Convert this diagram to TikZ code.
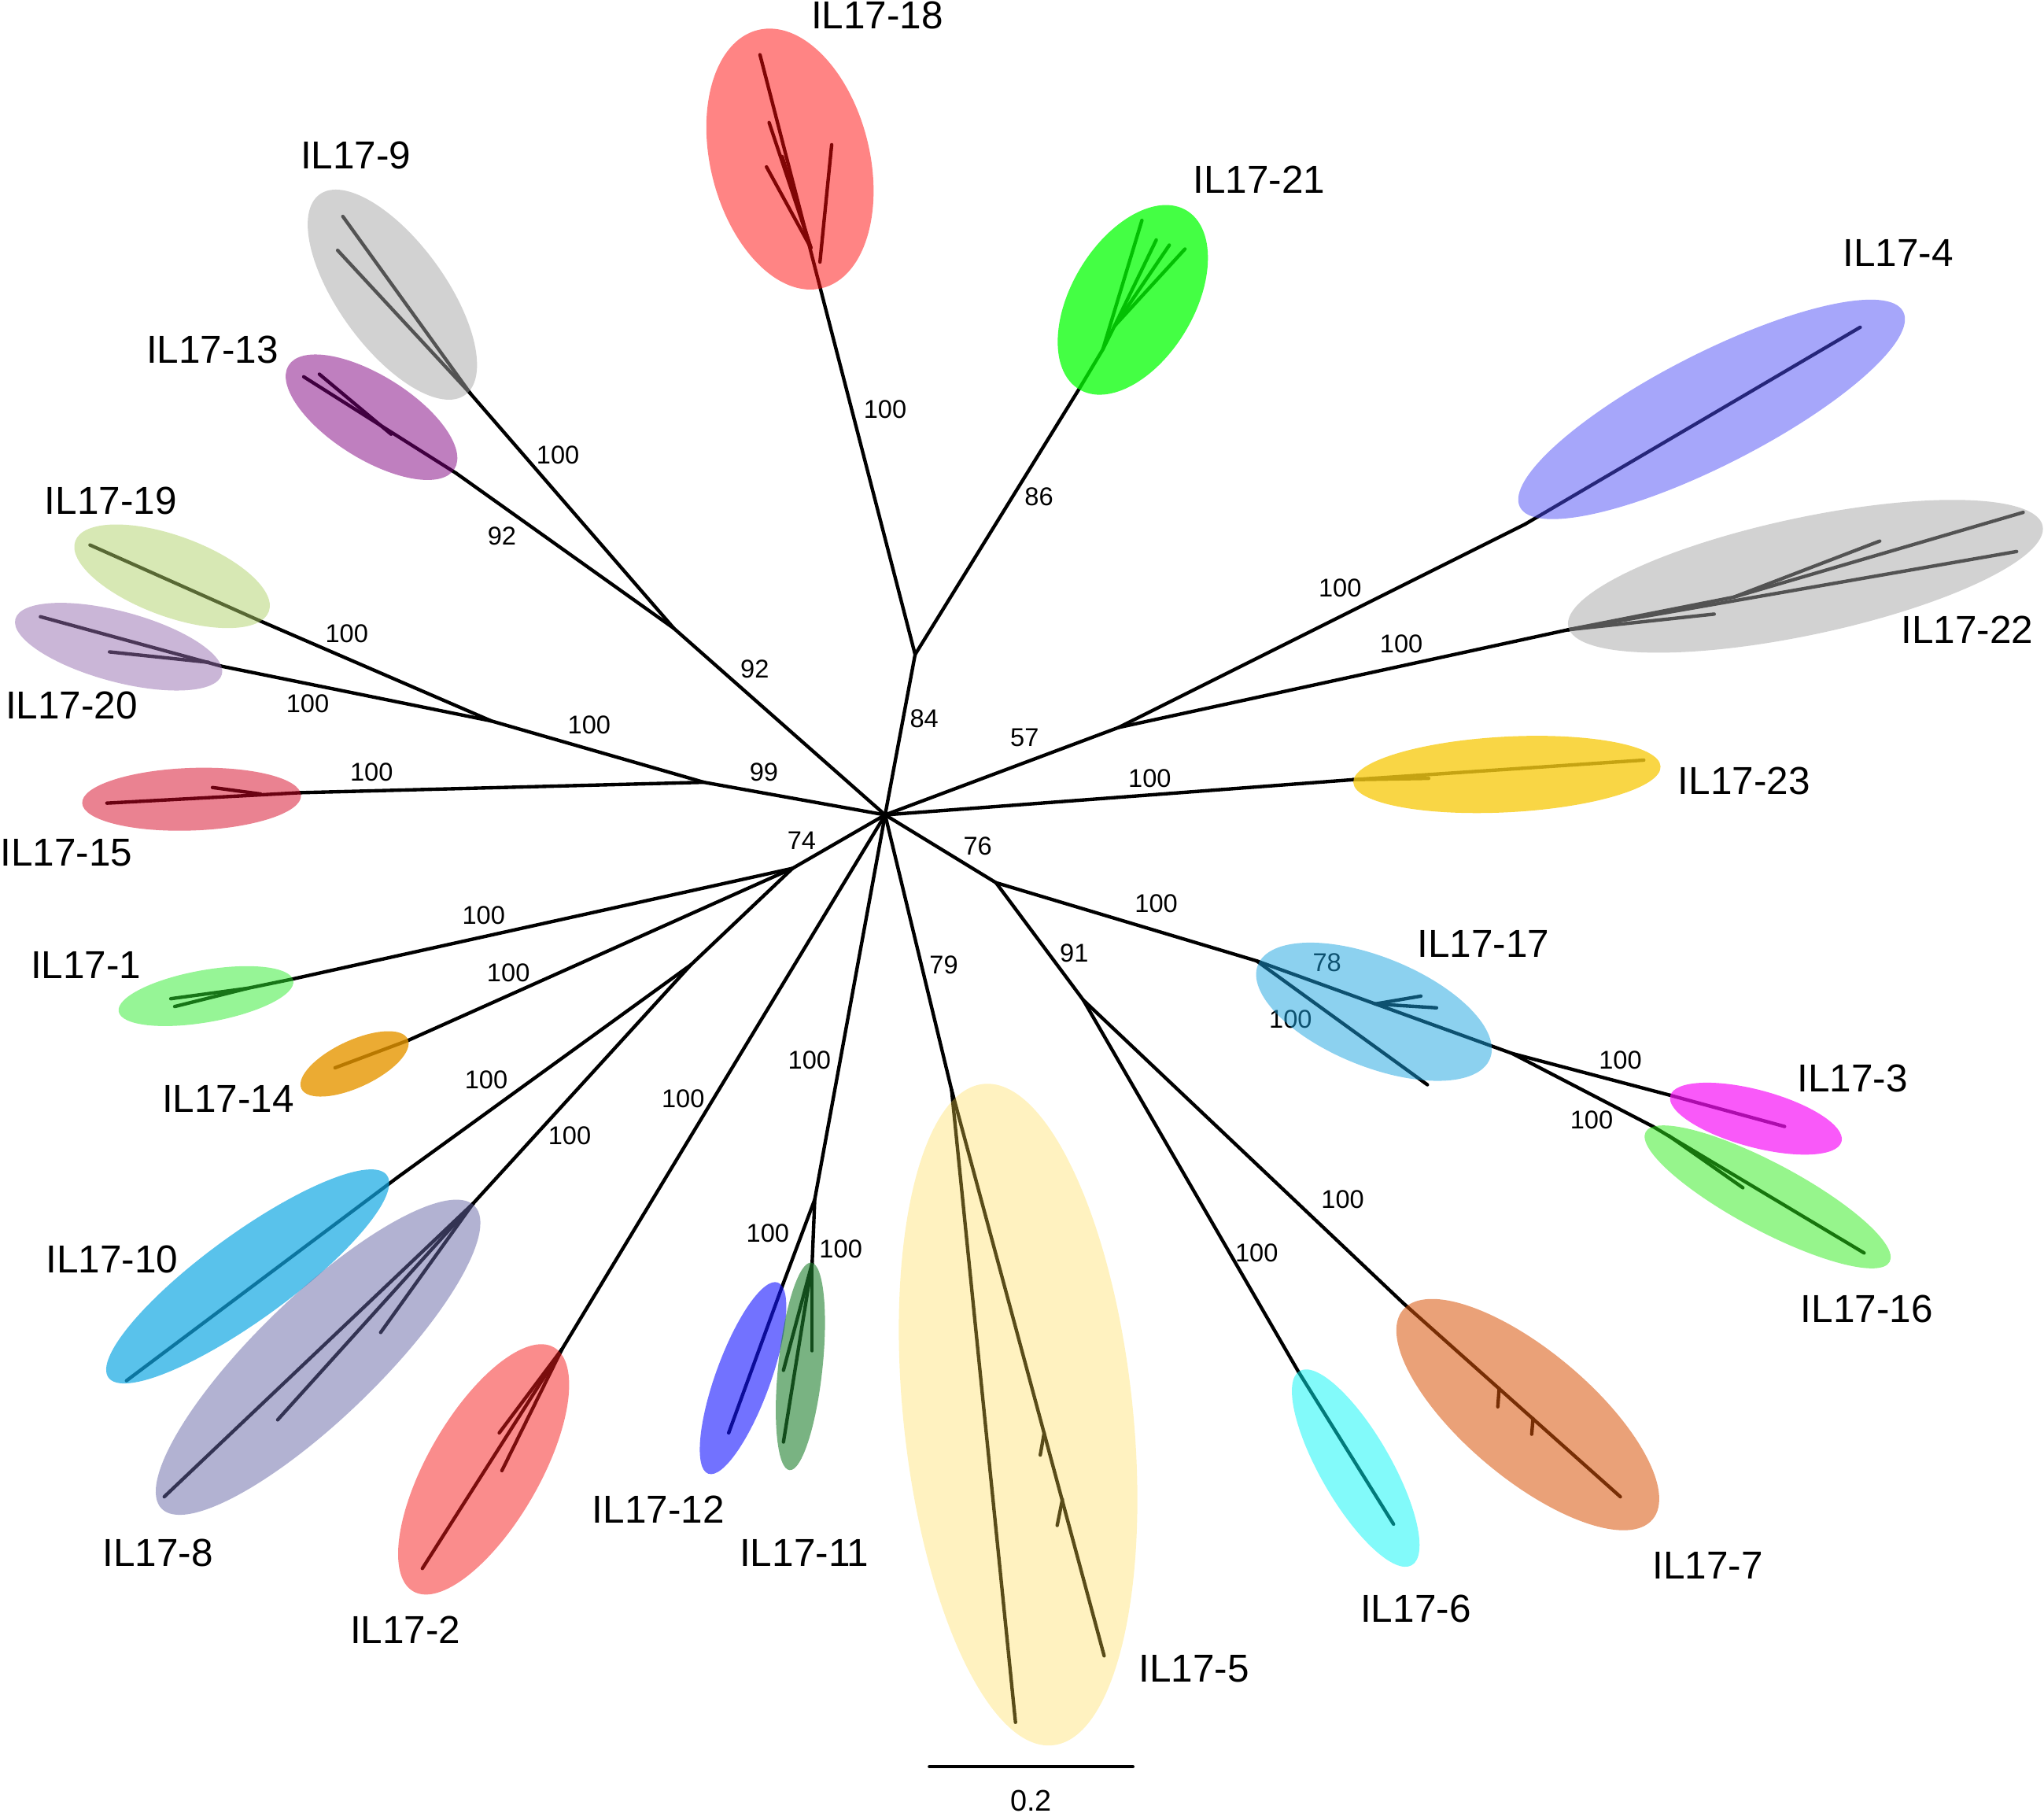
\documentclass[tikz,border=0pt]{standalone}
\usepackage{fontspec}
\setmainfont{Liberation Sans}
\usepackage{tikz}
\usetikzlibrary{shapes.geometric}

\definecolor{cred}{RGB}{255,10,10}
\definecolor{cgreen}{RGB}{5,255,5}
\definecolor{cgray}{RGB}{166,166,166}
\definecolor{cpurple}{RGB}{128,0,128}
\definecolor{colive}{RGB}{176,209,105}
\definecolor{clilac}{RGB}{150,110,176}
\definecolor{crose}{RGB}{214,5,36}
\definecolor{clime}{RGB}{46,235,46}
\definecolor{corange}{RGB}{230,150,0}
\definecolor{csky}{RGB}{18,168,227}
\definecolor{cslate}{RGB}{102,102,166}
\definecolor{csalmon}{RGB}{245,26,26}
\definecolor{cblue}{RGB}{20,20,255}
\definecolor{cforest}{RGB}{31,128,46}
\definecolor{cyellow}{RGB}{255,219,74}
\definecolor{ccyan}{RGB}{5,245,245}
\definecolor{crust}{RGB}{217,84,10}
\definecolor{cazure}{RGB}{26,163,224}
\definecolor{cmagenta}{RGB}{247,18,247}
\definecolor{cleaf}{RGB}{46,235,26}
\definecolor{cperiwinkle}{RGB}{77,77,245}
\definecolor{cgold}{RGB}{247,204,23}

\begin{document}
\begin{tikzpicture}[x=0.1mm, y=-0.1mm]
    \tikzstyle{branch} = [line width=0.75pt, line cap=round, line join=round]
    \tikzstyle{boot} = [font=\fontsize{5.6}{6}\selectfont, inner sep=0pt]
    \tikzstyle{taxon} = [font=\fontsize{8.5}{10}\selectfont, inner sep=0pt]
    \tikzstyle{clade} = [ellipse, draw=none, inner sep=0pt, fill opacity=0.5]

    \useasboundingbox (0,0) rectangle (1568,1390);

    % backbone
    \coordinate (root) at (679,625);
    \coordinate (n84) at (702,502);
    \coordinate (n57) at (858,558);
    \coordinate (n76) at (764,677);
    \coordinate (n91) at (831,767);
    \coordinate (n79) at (730,836);
    \coordinate (n1112) at (625,920);
    \coordinate (n74) at (608,666);
    \coordinate (n108) at (530,740);
    \coordinate (n99) at (540,600);
    \coordinate (n1920) at (377,553);
    \coordinate (n92) at (517,482);
    \coordinate (n17) at (964,737);
    \coordinate (n316) at (1160,808);

    % clade bases
    \coordinate (b18) at (629,220);
    \coordinate (b21) at (828,298);
    \coordinate (b4) at (1170,402);
    \coordinate (b22) at (1203,483);
    \coordinate (b23) at (1038,598);
    \coordinate (b3) at (1281,840);
    \coordinate (b16) at (1268,864);
    \coordinate (b7) at (1077,1000);
    \coordinate (b6) at (996,1052);
    \coordinate (b12) at (601,984);
    \coordinate (b11) at (623,969);
    \coordinate (b2) at (431,1035);
    \coordinate (b8) at (363,923);
    \coordinate (b10) at (305,903);
    \coordinate (b14) at (313,798);
    \coordinate (b1) at (224,751);
    \coordinate (b15) at (230,608);
    \coordinate (b19) at (199,476);
    \coordinate (b20) at (170,511);
    \coordinate (b13) at (350,363);
    \coordinate (b9) at (361,302);

    \draw[branch] (root) -- (n84) -- (b18);
    \draw[branch] (n84) -- (b21);
    \draw[branch] (root) -- (n57) -- (b4);
    \draw[branch] (n57) -- (b22);
    \draw[branch] (root) -- (b23);
    \draw[branch] (root) -- (n76) -- (n17) -- (n316) -- (b3);
    \draw[branch] (n316) -- (b16);
    \draw[branch] (n76) -- (n91) -- (b7);
    \draw[branch] (n91) -- (b6);
    \draw[branch] (root) -- (n79);
    \draw[branch] (root) -- (n1112) -- (b12);
    \draw[branch] (n1112) -- (b11);
    \draw[branch] (root) -- (b2);
    \draw[branch] (root) -- (n74) -- (b1);
    \draw[branch] (n74) -- (b14);
    \draw[branch] (n74) -- (n108) -- (b10);
    \draw[branch] (n108) -- (b8);
    \draw[branch] (root) -- (n99) -- (b15);
    \draw[branch] (n99) -- (n1920) -- (b19);
    \draw[branch] (n1920) -- (b20);
    \draw[branch] (root) -- (n92) -- (b9);
    \draw[branch] (n92) -- (b13);

    % IL17-18 clade
    \coordinate (k18a) at (622,190);
    \coordinate (k18b) at (629,201);
    \coordinate (t18a) at (583,42);
    \coordinate (t18b) at (590,94);
    \coordinate (t18c) at (588,128);
    \coordinate (t18d) at (638,111);
    \coordinate (t18e) at (600,120);
    \draw[branch] (b18) -- (t18a);
    \draw[branch] (k18a) -- (t18b);
    \draw[branch] (k18a) -- (t18c);
    \draw[branch] (k18a) -- (t18e);
    \draw[branch] (k18b) -- (t18d);

    % IL17-21 clade
    \coordinate (k21a) at (846,268);
    \coordinate (k21b) at (855,250);
    \coordinate (t21a) at (876,169);
    \coordinate (t21b) at (887,184);
    \coordinate (t21c) at (897,188);
    \coordinate (t21d) at (909,191);
    \draw[branch] (b21) -- (k21a) -- (t21a);
    \draw[branch] (k21a) -- (k21b) -- (t21b);
    \draw[branch] (k21b) -- (t21c);
    \draw[branch] (k21b) -- (t21d);

    % IL17-4, IL17-22, IL17-23 clades
    \coordinate (t4) at (1427,251);
    \draw[branch] (b4) -- (t4);
    \coordinate (k22) at (1330,458);
    \coordinate (t22a) at (1552,393);
    \coordinate (t22b) at (1547,423);
    \coordinate (t22c) at (1442,415);
    \coordinate (t22d) at (1315,471);
    \draw[branch] (b22) -- (t22b);
    \draw[branch] (b22) -- (t22d);
    \draw[branch] (b22) -- (k22) -- (t22a);
    \draw[branch] (k22) -- (t22c);
    \coordinate (t23a) at (1261,583);
    \coordinate (t23b) at (1096,597);
    \draw[branch] (b23) -- (t23a);
    \draw[branch] (b23) -- (t23b);

    % IL17-17, IL17-3, IL17-16 clades
    \coordinate (t17a) at (1095,832);
    \coordinate (k17) at (1055,770);
    \coordinate (t17b) at (1102,773);
    \coordinate (t17c) at (1090,764);
    \draw[branch] (n17) -- (t17a);
    \draw[branch] (k17) -- (t17b);
    \draw[branch] (k17) -- (t17c);
    \coordinate (t3) at (1369,864);
    \draw[branch] (b3) -- (t3);
    \coordinate (k16) at (1280,871);
    \coordinate (t16a) at (1430,961);
    \coordinate (t16b) at (1337,911);
    \draw[branch] (b16) -- (t16a);
    \draw[branch] (k16) -- (t16b);

    % IL17-7, IL17-6 clades
    \coordinate (t7) at (1243,1148);
    \coordinate (k7a) at (1150,1065);
    \coordinate (t7b) at (1149,1079);
    \coordinate (k7b) at (1176,1088);
    \coordinate (t7c) at (1175,1100);
    \draw[branch] (b7) -- (t7);
    \draw[branch] (k7a) -- (t7b);
    \draw[branch] (k7b) -- (t7c);
    \coordinate (t6) at (1069,1169);
    \draw[branch] (b6) -- (t6);

    % IL17-5 clade
    \coordinate (t5a) at (779,1321);
    \coordinate (t5b) at (847,1270);
    \coordinate (k5a) at (801,1099);
    \coordinate (t5c) at (798,1116);
    \coordinate (k5b) at (815,1150);
    \coordinate (t5d) at (811,1170);
    \draw[branch] (n79) -- (t5a);
    \draw[branch] (n79) -- (t5b);
    \draw[branch] (k5a) -- (t5c);
    \draw[branch] (k5b) -- (t5d);

    % IL17-12, IL17-11 clades
    \coordinate (t12) at (559,1099);
    \draw[branch] (b12) -- (t12);
    \coordinate (t11a) at (623,1036);
    \coordinate (t11b) at (601,1051);
    \coordinate (t11c) at (601,1106);
    \draw[branch] (b11) -- (t11a);
    \draw[branch] (b11) -- (t11b);
    \draw[branch] (b11) -- (t11c);

    % IL17-2, IL17-8, IL17-10 clades
    \coordinate (t2a) at (324,1203);
    \coordinate (t2b) at (383,1099);
    \coordinate (t2c) at (385,1128);
    \draw[branch] (b2) -- (t2a);
    \draw[branch] (b2) -- (t2b);
    \draw[branch] (b2) -- (t2c);
    \coordinate (t8a) at (126,1148);
    \coordinate (t8b) at (213,1089);
    \coordinate (t8c) at (292,1022);
    \draw[branch] (b8) -- (t8a);
    \draw[branch] (b8) -- (t8b);
    \draw[branch] (b8) -- (t8c);
    \coordinate (t10) at (97,1059);
    \draw[branch] (b10) -- (t10);

    % IL17-14, IL17-1, IL17-15 clades
    \coordinate (t14) at (257,819);
    \draw[branch] (b14) -- (t14);
    \coordinate (k1) at (190,758);
    \coordinate (t1a) at (131,766);
    \coordinate (t1b) at (134,772);
    \draw[branch] (b1) -- (k1) -- (t1a);
    \draw[branch] (k1) -- (t1b);
    \coordinate (t15a) at (82,616);
    \coordinate (k15) at (200,609);
    \coordinate (t15b) at (163,604);
    \draw[branch] (b15) -- (t15a);
    \draw[branch] (k15) -- (t15b);

    % IL17-20, IL17-19, IL17-13, IL17-9 clades
    \coordinate (t20a) at (31,473);
    \coordinate (k20) at (160,508);
    \coordinate (t20b) at (84,500);
    \draw[branch] (b20) -- (t20a);
    \draw[branch] (k20) -- (t20b);
    \coordinate (t19) at (69,418);
    \draw[branch] (b19) -- (t19);
    \coordinate (t13a) at (233,289);
    \coordinate (k13) at (300,333);
    \coordinate (t13b) at (245,287);
    \draw[branch] (b13) -- (t13a);
    \draw[branch] (k13) -- (t13b);
    \coordinate (t9a) at (263,166);
    \coordinate (t9b) at (259,192);
    \draw[branch] (b9) -- (t9a);
    \draw[branch] (b9) -- (t9b);

    % bootstrap values
    \node[boot] (bs18) at (679,314) {100};
    \node[boot] (bs21) at (797,381) {86};
    \node[boot] (bs84) at (709,551) {84};
    \node[boot] (bs4) at (1028,451) {100};
    \node[boot] (bs22) at (1075,494) {100};
    \node[boot] (bs57) at (786,566) {57};
    \node[boot] (bs23) at (882,597) {100};
    \node[boot] (bs76) at (750,649) {76};
    \node[boot] (bs17) at (887,693) {100};
    \node[boot] (bs78) at (1018,738) {78};
    \node[boot] (bs17b) at (990,782) {100};
    \node[boot] (bs3) at (1243,813) {100};
    \node[boot] (bs16) at (1221,859) {100};
    \node[boot] (bs91) at (824,731) {91};
    \node[boot] (bs7) at (1030,920) {100};
    \node[boot] (bs6) at (964,961) {100};
    \node[boot] (bs79) at (724,740) {79};
    \node[boot] (bs1112) at (621,813) {100};
    \node[boot] (bs12) at (589,946) {100};
    \node[boot] (bs11) at (645,958) {100};
    \node[boot] (bs2) at (524,843) {100};
    \node[boot] (bs8) at (437,871) {100};
    \node[boot] (bs10) at (373,828) {100};
    \node[boot] (bs14) at (390,746) {100};
    \node[boot] (bs1) at (371,702) {100};
    \node[boot] (bs74) at (615,645) {74};
    \node[boot] (bs99) at (586,592) {99};
    \node[boot] (bs15) at (285,592) {100};
    \node[boot] (bs1920) at (452,556) {100};
    \node[boot] (bs19) at (266,486) {100};
    \node[boot] (bs20) at (236,540) {100};
    \node[boot] (bs92) at (579,513) {92};
    \node[boot] (bs9) at (428,349) {100};
    \node[boot] (bs13) at (385,411) {92};

    % clade ellipses
    \node[clade, fill=cred, minimum width=20.4mm, minimum height=12.2mm, rotate=104] (e18) at (606,122) {};
    \node[clade, fill=cgreen, fill opacity=0.75, minimum width=16mm, minimum height=9.4mm, rotate=59] (e21) at (869,230) {};
    \node[clade, fill=cgray, minimum width=19mm, minimum height=8.2mm, rotate=-54] (e9) at (301,226) {};
    \node[clade, fill=cpurple, minimum width=15mm, minimum height=6.4mm, rotate=-32] (e13) at (285,320) {};
    \node[clade, fill=colive, minimum width=15.8mm, minimum height=6.2mm, rotate=-20] (e19) at (132,442) {};
    \node[clade, fill=clilac, minimum width=16.4mm, minimum height=5.4mm, rotate=-15] (e20) at (91,496) {};
    \node[clade, fill=crose, minimum width=16.8mm, minimum height=4.8mm, rotate=2] (e15) at (147,613) {};
    \node[clade, fill=clime, minimum width=13.6mm, minimum height=4mm, rotate=10] (e1) at (158,764) {};
    \node[clade, fill=corange, fill opacity=0.8, minimum width=9mm, minimum height=3.6mm, rotate=25] (e14) at (272,816) {};
    \node[clade, fill=csky, fill opacity=0.7, minimum width=26.4mm, minimum height=6.6mm, rotate=36] (e10) at (190,979) {};
    \node[clade, fill=cslate, minimum width=33.4mm, minimum height=9.4mm, rotate=44] (e8) at (244,1041) {};
    \node[clade, fill=csalmon, minimum width=21.6mm, minimum height=8.6mm, rotate=60] (e2) at (371,1127) {};
    \node[clade, fill=cblue, fill opacity=0.6, minimum width=15.6mm, minimum height=4.2mm, rotate=70] (e12) at (570,1057) {};
    \node[clade, fill=cforest, fill opacity=0.6, minimum width=16mm, minimum height=3.4mm, rotate=84] (e11) at (614,1048) {};
    \node[clade, fill=cyellow, fill opacity=0.35, minimum width=51mm, minimum height=17.6mm, rotate=96] (e5) at (781,1085) {};
    \node[clade, fill=ccyan, minimum width=17.2mm, minimum height=5.4mm, rotate=-60] (e6) at (1040,1126) {};
    \node[clade, fill=crust, fill opacity=0.55, minimum width=25mm, minimum height=9.8mm, rotate=-40] (e7) at (1172,1085) {};
    \node[clade, fill=cazure, minimum width=19.2mm, minimum height=8.4mm, rotate=-22] (e17) at (1054,776) {};
    \node[clade, fill=cmagenta, fill opacity=0.7, minimum width=13.6mm, minimum height=4.4mm, rotate=-15] (e3) at (1347,858) {};
    \node[clade, fill=cleaf, minimum width=21.2mm, minimum height=5.2mm, rotate=-28] (e16) at (1356,918) {};
    \node[clade, fill=cperiwinkle, minimum width=33mm, minimum height=8.6mm, rotate=27] (e4) at (1313,314) {};
    \node[clade, fill=cgray, minimum width=37.2mm, minimum height=9mm, rotate=12] (e22) at (1385,442) {};
    \node[clade, fill=cgold, fill opacity=0.8, minimum width=23.6mm, minimum height=5.8mm, rotate=3] (e23) at (1156,594) {};

    % clade names
    \node[taxon] (l18) at (673,12) {IL17-18};
    \node[taxon] (l21) at (966,138) {IL17-21};
    \node[taxon] (l4) at (1456,194) {IL17-4};
    \node[taxon] (l22) at (1509,483) {IL17-22};
    \node[taxon] (l23) at (1338,599) {IL17-23};
    \node[taxon] (l17) at (1138,724) {IL17-17};
    \node[taxon] (l3) at (1421,827) {IL17-3};
    \node[taxon] (l16) at (1432,1004) {IL17-16};
    \node[taxon] (l7) at (1310,1201) {IL17-7};
    \node[taxon] (l6) at (1086,1234) {IL17-6};
    \node[taxon] (l5) at (916,1280) {IL17-5};
    \node[taxon] (l11) at (617,1191) {IL17-11};
    \node[taxon] (l12) at (505,1158) {IL17-12};
    \node[taxon] (l2) at (311,1250) {IL17-2};
    \node[taxon] (l8) at (121,1191) {IL17-8};
    \node[taxon] (l10) at (86,966) {IL17-10};
    \node[taxon] (l14) at (175,843) {IL17-14};
    \node[taxon] (l1) at (66,740) {IL17-1};
    \node[taxon] (l15) at (51,654) {IL17-15};
    \node[taxon] (l20) at (55,541) {IL17-20};
    \node[taxon] (l19) at (85,384) {IL17-19};
    \node[taxon] (l13) at (163,268) {IL17-13};
    \node[taxon] (l9) at (273,119) {IL17-9};

    % scale bar
    \coordinate (sbl) at (713,1355);
    \coordinate (sbr) at (869,1355);
    \draw[branch] (sbl) -- (sbr);
    \node[font=\fontsize{6.5}{7}\selectfont, inner sep=0pt] (sbt) at (791,1381) {0.2};
\end{tikzpicture}
\end{document}
